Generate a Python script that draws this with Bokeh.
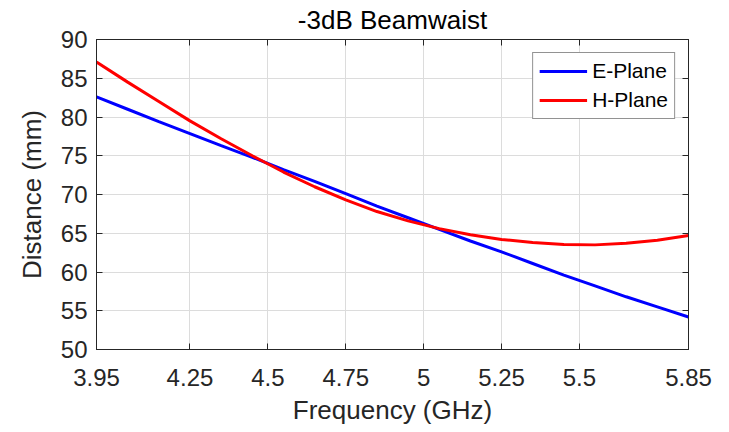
from bokeh.plotting import figure
from bokeh.models import FixedTicker, LinearAxis, Legend, LegendItem, Range1d, CustomLabelingPolicy
from bokeh.embed import file_html
from bokeh.resources import INLINE

freq = [3.95, 4.05, 4.15, 4.25, 4.35, 4.45, 4.55, 4.65, 4.75, 4.85,
        4.95, 5.05, 5.15, 5.25, 5.35, 5.45, 5.55, 5.65, 5.75, 5.85]
e_plane = [82.6, 81.0, 79.4, 77.85, 76.3, 74.8, 73.2, 71.7, 70.1, 68.5,
           67.0, 65.5, 64.0, 62.6, 61.1, 59.6, 58.2, 56.8, 55.5, 54.2]
h_plane = [87.1, 84.5, 82.0, 79.5, 77.2, 75.0, 72.9, 71.0, 69.3, 67.8,
           66.6, 65.6, 64.8, 64.2, 63.8, 63.55, 63.5, 63.7, 64.1, 64.7]

x_ticks = [3.95, 4.25, 4.5, 4.75, 5, 5.25, 5.5, 5.85]
x_tick_labels = ["3.95", "4.25", "4.5", "4.75", "5", "5.25", "5.5", "5.85"]
y_ticks = [50, 55, 60, 65, 70, 75, 80, 85, 90]

FONT = "Liberation Sans"
DARK = "#262626"

p = figure(width=729, height=432, output_backend="svg", toolbar_location=None,
           x_range=Range1d(3.95, 5.85), y_range=Range1d(50, 90),
           min_border_left=96, min_border_right=41, min_border_top=39, min_border_bottom=83,
           title="-3dB Beamwaist")

p.title.text_font = FONT
p.title.text_font_size = "26px"
p.title.text_font_style = "normal"
p.title.text_color = "#000000"
p.title.align = "center"
p.title.standoff = 2
p.title.offset = 0

p.outline_line_color = DARK
p.outline_line_width = 1
p.background_fill_color = "white"
p.border_fill_color = "white"

r_e = p.line(freq, e_plane, line_color="#0000ff", line_width=3)
r_h = p.line(freq, h_plane, line_color="#ff0000", line_width=3)

for ax in (p.xaxis[0], p.yaxis[0]):
    ax.major_label_text_font = FONT
    ax.major_label_text_font_size = "24px"
    ax.major_label_text_color = DARK
    ax.axis_label_text_font = FONT
    ax.axis_label_text_font_size = "26px"
    ax.axis_label_text_font_style = "normal"
    ax.axis_label_text_color = DARK
    ax.axis_line_color = DARK
    ax.major_tick_line_color = DARK
    ax.major_tick_in = 6
    ax.major_tick_out = 0
    ax.minor_tick_line_color = None

p.xaxis[0].ticker = FixedTicker(ticks=x_ticks)
p.xaxis[0].major_label_overrides = {t: l for t, l in zip(x_ticks, x_tick_labels)}
p.xaxis[0].axis_label = "Frequency (GHz)"
p.xaxis[0].major_label_standoff = 19
p.xaxis[0].axis_label_standoff = 6

p.yaxis[0].ticker = FixedTicker(ticks=y_ticks)
p.yaxis[0].axis_label = "Distance (mm)"
p.yaxis[0].major_label_standoff = 9
p.yaxis[0].axis_label_standoff = 11

# mirrored ticks on top and right (labels filtered out)
hide_all = "for (const i of [...indices]) { indices.unset(i) }\nreturn indices"
top = LinearAxis(ticker=FixedTicker(ticks=x_ticks), major_label_text_font_size="1px",
                 major_label_policy=CustomLabelingPolicy(code=hide_all),
                 major_label_standoff=0, major_tick_in=6, major_tick_out=0,
                 minor_tick_line_color=None, axis_line_color=DARK, major_tick_line_color=DARK)
right = LinearAxis(ticker=FixedTicker(ticks=y_ticks), major_label_text_font_size="1px",
                   major_label_policy=CustomLabelingPolicy(code=hide_all),
                   major_label_standoff=0, major_tick_in=6, major_tick_out=0,
                   minor_tick_line_color=None, axis_line_color=DARK, major_tick_line_color=DARK)
p.add_layout(top, "above")
p.add_layout(right, "right")

p.xgrid.ticker = FixedTicker(ticks=x_ticks)
p.ygrid.ticker = FixedTicker(ticks=y_ticks)
for g in (p.xgrid[0], p.ygrid[0]):
    g.grid_line_color = "#dcdcdc"
    g.grid_line_width = 1

legend = Legend(items=[LegendItem(label="E-Plane", renderers=[r_e]),
                       LegendItem(label="H-Plane", renderers=[r_h])],
                location="top_right", margin=13, padding=6, spacing=5,
                glyph_width=48, glyph_height=24, label_height=24, label_standoff=5,
                label_text_font=FONT, label_text_font_size="21px", label_text_color="#000000",
                border_line_color=DARK, border_line_width=1, background_fill_alpha=1.0)
p.add_layout(legend, "center")

open("out.html", "w").write(file_html(p, INLINE))
